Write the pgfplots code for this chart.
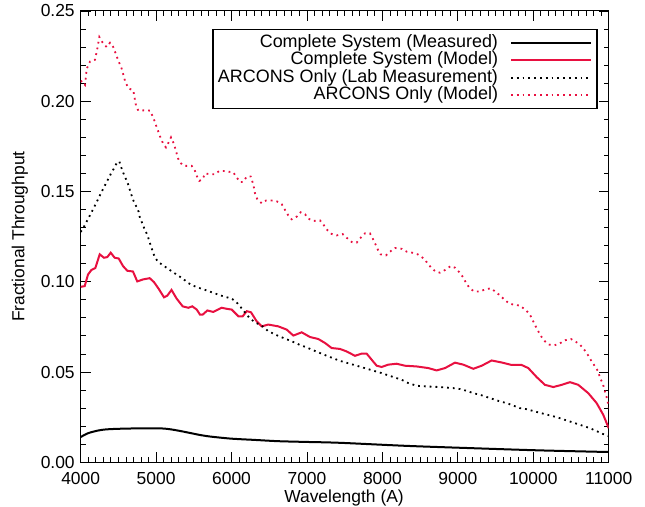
\documentclass[border=0pt]{standalone}
\usepackage{fontspec}
\setmainfont{Liberation Sans}
\usepackage{pgfplots}
\pgfplotsset{compat=1.18}
\definecolor{crim}{RGB}{232,16,64}
\begin{document}
\fontsize{17.5}{21}\selectfont
\begin{tikzpicture}
\useasboundingbox (-80.7bp,-44.7bp) rectangle (564.3bp,462.3bp);
\begin{axis}[
  at={(0,0)}, anchor=south west,
  scale only axis, width=528bp, height=451.3bp,
  xmin=4000, xmax=11000, ymin=0, ymax=0.25,
  xtick={4000,5000,6000,7000,8000,9000,10000,11000},
  ytick={0,0.05,0.10,0.15,0.20,0.25},
  minor x tick num=9, minor y tick num=4,
  tick align=inside, xtick pos=both, ytick pos=both,
  xticklabel pos=bottom, yticklabel pos=left,
  major tick length=10bp, minor tick length=5bp,
  every tick/.style={black, line width=0.9bp},
  axis line style={line width=1bp},
  /pgf/number format/assume math mode=true,
  scaled y ticks=false, scaled x ticks=false,
  yticklabel style={/pgf/number format/fixed, /pgf/number format/fixed zerofill, /pgf/number format/precision=2},
  xticklabel style={/pgf/number format/set thousands separator={}, yshift=-4bp},
  tick label style={font=\fontsize{17.5}{21}\selectfont},
  xlabel={Wavelength (A)}, ylabel={Fractional Throughput},
  xlabel style={at={(axis description cs:0.4987,0)}, anchor=base, yshift=-40.5bp, font=\fontsize{17.5}{21}\selectfont},
  ylabel style={at={(axis description cs:-0.115,0.5)}, anchor=center, font=\fontsize{17.5}{21}\selectfont},
  legend plot pos=right,
  legend cell align=right,
  legend style={at={(0.979,0.961)}, anchor=north east, draw=black, line width=1.2bp,
    inner xsep=5bp, inner ysep=5bp, font=\fontsize{18}{18}\selectfont,
    nodes={inner sep=0pt, text height=13bp, text depth=4bp}, row sep=0.5bp, column sep=12bp},
  legend image code/.code={\draw[#1] (0bp,0bp) -- (68bp,0bp); \path (0bp,0bp) -- (80bp,0bp);},
]
\addplot[black, line width=2bp, smooth] table {
4000 0.0140
4097 0.0161
4230 0.0176
4362 0.0183
4627 0.0187
5025 0.0188
5150 0.0185
5246 0.0179
5350 0.0171
5467 0.0161
5600 0.0150
5731 0.0142
5997 0.0131
6307 0.0124
6616 0.0117
6970 0.0113
7437 0.0108
8322 0.0091
9205 0.0078
10089 0.0066
11000 0.0057
};
\addlegendentry{Complete System (Measured)}
\addplot[crim, line width=2bp] table {
4000 0.0972
4053 0.0976
4097 0.1040
4141 0.1065
4194 0.1076
4252 0.1152
4309 0.1133
4353 0.1137
4398 0.1161
4451 0.1133
4504 0.1129
4561 0.1087
4618 0.1061
4693 0.1057
4750 0.1002
4826 0.1013
4915 0.1020
4972 0.0998
5034 0.0961
5104 0.0914
5148 0.0923
5204 0.0955
5270 0.0908
5352 0.0864
5427 0.0856
5480 0.0864
5538 0.0846
5582 0.0818
5617 0.0818
5679 0.0841
5758 0.0833
5869 0.0856
5940 0.0850
6002 0.0846
6090 0.0809
6148 0.0809
6201 0.0837
6258 0.0831
6333 0.0781
6400 0.0753
6487 0.0763
6620 0.0753
6731 0.0735
6819 0.0702
6930 0.0720
7040 0.0694
7150 0.0683
7239 0.0661
7327 0.0633
7437 0.0628
7526 0.0614
7636 0.0590
7725 0.0602
7791 0.0602
7858 0.0568
7924 0.0535
7990 0.0528
8078 0.0541
8189 0.0546
8299 0.0535
8454 0.0531
8608 0.0522
8719 0.0509
8830 0.0522
8962 0.0552
9072 0.0541
9205 0.0518
9316 0.0535
9448 0.0564
9581 0.0553
9714 0.0539
9846 0.0539
9934 0.0522
10045 0.0472
10155 0.0429
10266 0.0417
10376 0.0429
10487 0.0444
10597 0.0429
10729 0.0383
10840 0.0328
10928 0.0263
11000 0.0189
};
\addlegendentry{Complete System (Model)}
\addplot[black, line width=1.8bp, dash pattern=on 1.8bp off 4bp] table {
4000 0.1276
4044 0.1305
4080 0.1335
4119 0.1365
4154 0.1394
4190 0.1424
4225 0.1453
4260 0.1483
4296 0.1513
4331 0.1542
4366 0.1570
4402 0.1600
4441 0.1628
4477 0.1657
4512 0.1667
4538 0.1633
4565 0.1603
4597 0.1572
4627 0.1542
4671 0.1483
4703 0.1446
4737 0.1417
4769 0.1387
4786 0.1353
4817 0.1324
4848 0.1290
4883 0.1261
4905 0.1231
4928 0.1202
4955 0.1168
4981 0.1137
5029 0.1109
5095 0.1091
5157 0.1072
5224 0.1053
5290 0.1035
5356 0.1017
5422 0.0994
5489 0.0979
5555 0.0968
5635 0.0957
5710 0.0946
5784 0.0935
5856 0.0924
5930 0.0915
6006 0.0906
6080 0.0880
6150 0.0845
6220 0.0808
6300 0.0778
6360 0.0765
6421 0.0750
6487 0.0726
6554 0.0713
6629 0.0698
6699 0.0687
6775 0.0674
6850 0.0661
6917 0.0648
6996 0.0637
7062 0.0624
7250 0.0592
7437 0.0562
7700 0.0530
7990 0.0494
8255 0.0457
8343 0.0439
8454 0.0424
8587 0.0420
8763 0.0417
8940 0.0411
9028 0.0406
9117 0.0396
9205 0.0383
9293 0.0374
9426 0.0356
9559 0.0337
9648 0.0328
9824 0.0300
9913 0.0294
10089 0.0274
10310 0.0250
10530 0.0220
10752 0.0189
10950 0.0152
11000 0.0145
};
\addlegendentry{ARCONS Only (Lab Measurement)}
\addplot[crim, line width=1.8bp, dash pattern=on 1.8bp off 4bp] table {
4000 0.2114
4057 0.2090
4080 0.2180
4123 0.2220
4190 0.2230
4220 0.2290
4247 0.2356
4292 0.2324
4345 0.2300
4388 0.2324
4432 0.2300
4498 0.2226
4544 0.2180
4587 0.2114
4631 0.2072
4697 0.2060
4733 0.1976
4764 0.1948
4852 0.1950
4919 0.1948
4962 0.1910
5008 0.1856
5051 0.1806
5095 0.1763
5131 0.1744
5161 0.1768
5197 0.1800
5237 0.1763
5281 0.1698
5307 0.1664
5370 0.1642
5472 0.1642
5515 0.1614
5538 0.1587
5572 0.1559
5617 0.1568
5648 0.1600
5714 0.1596
5780 0.1596
5837 0.1614
5890 0.1614
5957 0.1610
6023 0.1606
6068 0.1578
6112 0.1553
6156 0.1553
6201 0.1583
6254 0.1583
6288 0.1540
6311 0.1490
6342 0.1457
6400 0.1435
6457 0.1450
6532 0.1450
6598 0.1446
6665 0.1430
6709 0.1398
6752 0.1368
6797 0.1346
6864 0.1361
6916 0.1385
6974 0.1374
7017 0.1350
7084 0.1337
7172 0.1340
7216 0.1318
7261 0.1290
7327 0.1265
7394 0.1257
7473 0.1264
7526 0.1244
7593 0.1220
7659 0.1217
7712 0.1244
7769 0.1268
7835 0.1268
7871 0.1240
7902 0.1213
7937 0.1180
7977 0.1152
8047 0.1146
8110 0.1170
8167 0.1187
8255 0.1183
8322 0.1167
8396 0.1161
8468 0.1152
8534 0.1133
8587 0.1109
8640 0.1081
8697 0.1059
8763 0.1050
8834 0.1066
8905 0.1087
8962 0.1078
9019 0.1053
9072 0.1024
9108 0.0994
9152 0.0968
9214 0.0946
9284 0.0946
9360 0.0957
9435 0.0964
9496 0.0946
9559 0.0924
9616 0.0902
9682 0.0879
9757 0.0872
9824 0.0868
9903 0.0842
9956 0.0818
9992 0.0787
10027 0.0757
10066 0.0726
10111 0.0694
10155 0.0670
10212 0.0652
10279 0.0648
10345 0.0657
10421 0.0676
10500 0.0683
10566 0.0667
10619 0.0652
10676 0.0624
10729 0.0591
10774 0.0559
10818 0.0531
10862 0.0503
10884 0.0467
10920 0.0439
10941 0.0406
10960 0.0378
10981 0.0350
11000 0.0300
};
\addlegendentry{ARCONS Only (Model)}
\end{axis}
\end{tikzpicture}
\end{document}
